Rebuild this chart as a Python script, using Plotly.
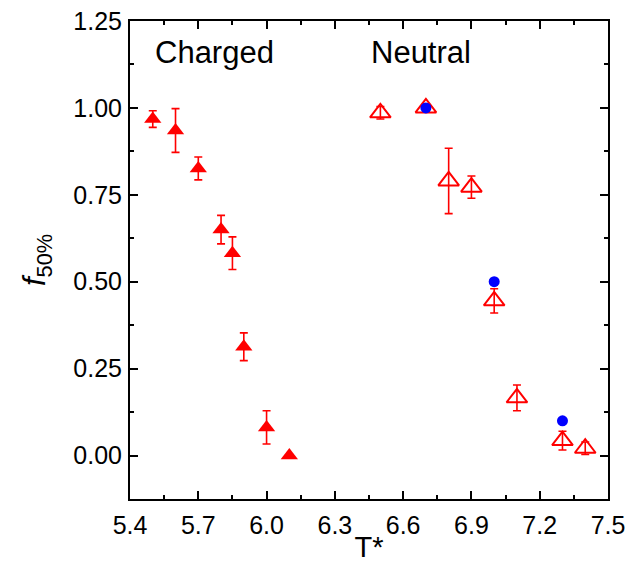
import plotly.graph_objects as go

# Charged systems (filled triangles)
charged_T = [5.5, 5.6, 5.7, 5.8, 5.85, 5.9, 6.0, 6.1]
charged_f = [0.968, 0.935, 0.826, 0.650, 0.582, 0.313, 0.081, 0.0]
charged_err = [0.024, 0.063, 0.033, 0.041, 0.047, 0.040, 0.048, 0.0]

# Neutral systems (open triangles)
neutral_T = [6.5, 6.7, 6.8, 6.9, 7.0, 7.1, 7.3, 7.4]
neutral_f = [0.986, 1.0, 0.790, 0.772, 0.445, 0.166, 0.043, 0.021]
neutral_err = [0.018, 0.012, 0.094, 0.032, 0.035, 0.037, 0.027, 0.018]

# Reference values (blue circles)
ref_T = [6.7, 7.0, 7.3]
ref_f = [1.0, 0.50, 0.10]

x_ticks = [5.4, 5.7, 6.0, 6.3, 6.6, 6.9, 7.2, 7.5]
y_ticks = [0.0, 0.25, 0.50, 0.75, 1.00, 1.25]

RED = "#FF0000"
BLUE = "#0000FF"
FONT = "Liberation Sans, Arial, sans-serif"

fig = go.Figure()

fig.add_trace(go.Scatter(
    x=charged_T, y=charged_f, mode="markers",
    marker=dict(symbol="triangle-up", size=15, color=RED),
    error_y=dict(type="data", array=charged_err, visible=True,
                 color=RED, thickness=1.6, width=4),
    showlegend=False,
))

fig.add_trace(go.Scatter(
    x=neutral_T, y=neutral_f, mode="markers",
    marker=dict(symbol="triangle-up-open", size=18, color=RED,
                line=dict(color=RED, width=2)),
    error_y=dict(type="data", array=neutral_err, visible=True,
                 color=RED, thickness=1.6, width=4),
    showlegend=False,
))

fig.add_trace(go.Scatter(
    x=ref_T, y=ref_f, mode="markers",
    marker=dict(symbol="circle", size=11, color=BLUE),
    showlegend=False,
))

fig.add_annotation(x=5.77, y=1.16, text="Charged", showarrow=False,
                   font=dict(family=FONT, size=31, color="black"))
fig.add_annotation(x=6.68, y=1.16, text="Neutral", showarrow=False,
                   font=dict(family=FONT, size=31, color="black"))

axis_common = dict(
    showline=True, linecolor="black", linewidth=2, mirror="allticks",
    ticks="inside", ticklen=8, tickwidth=2, tickcolor="black",
    showgrid=False, zeroline=False, automargin=False,
    tickfont=dict(family=FONT, size=25, color="black"),
)

fig.update_xaxes(
    range=[5.4, 7.5], tickvals=x_ticks,
    ticktext=[f"{v:.1f}" for v in x_ticks],
    minor=dict(ticks="inside", ticklen=4, tickwidth=2, tickcolor="black",
               dtick=0.15, tick0=5.4),
    ticklabelstandoff=3,
    title=dict(text="T*", font=dict(family=FONT, size=29, color="black"),
               standoff=0),
    **axis_common,
)
fig.update_yaxes(
    range=[-0.125, 1.25], tickvals=y_ticks,
    ticktext=[f"{v:.2f}" for v in y_ticks],
    minor=dict(ticks="inside", ticklen=4, tickwidth=2, tickcolor="black",
               dtick=0.125, tick0=0),
    ticklabelstandoff=1,
    title=dict(text="<i>f</i><sub>50%</sub>",
               font=dict(family=FONT, size=31, color="black"), standoff=18),
    **axis_common,
)

fig.update_layout(
    width=629, height=563,
    margin=dict(l=130, r=21, t=21, b=64),
    paper_bgcolor="white", plot_bgcolor="white",
)

fig.write_html("out.html")
